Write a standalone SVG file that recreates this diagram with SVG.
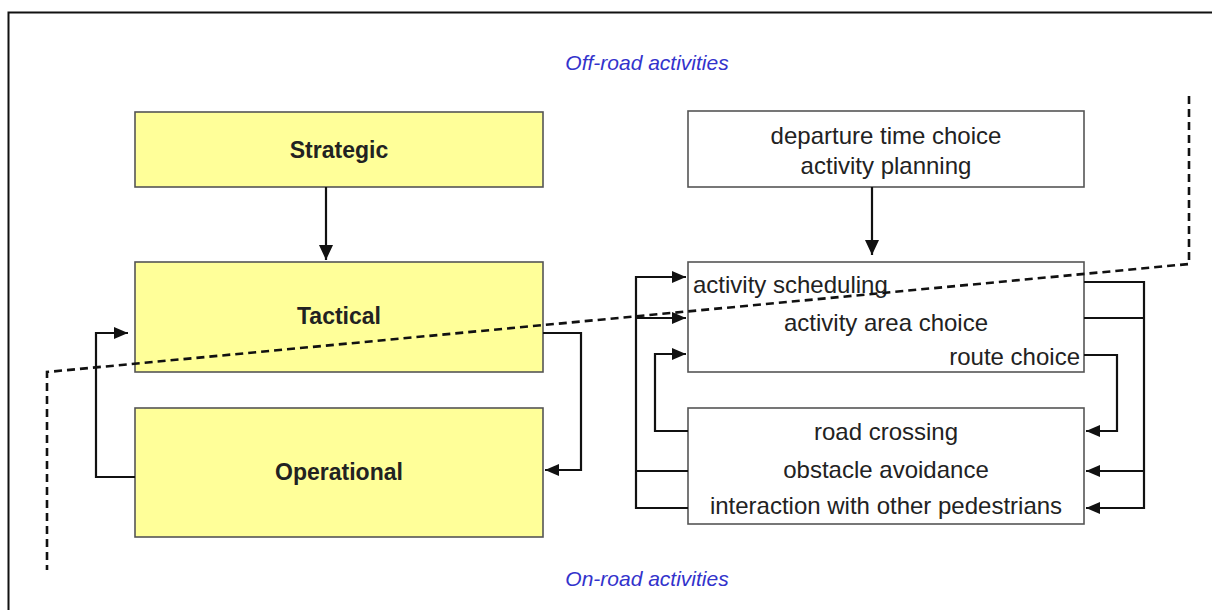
<svg xmlns="http://www.w3.org/2000/svg" width="1212" height="610" viewBox="0 0 1212 610">
<defs>
<style>
.box{stroke:#555;stroke-width:1.6}
.y{fill:#ffff99}
.w{fill:#fff}
.t{font-family:"Liberation Sans",Arial,sans-serif;font-size:24px;fill:#222}
.b{font-weight:bold;font-size:23px}
.blue{font-family:"Liberation Sans",Arial,sans-serif;font-size:21px;font-style:italic;fill:#3333cc}
.c{fill:none;stroke:#111;stroke-width:2.2}
.d{fill:none;stroke:#111;stroke-width:2.6;stroke-dasharray:8 5}
</style>
<marker id="ah" viewBox="0 0 14 12" refX="14" refY="6" markerWidth="14" markerHeight="12" markerUnits="userSpaceOnUse" orient="auto">
<path d="M0,0 L14,6 L0,12 Z" fill="#111"/>
</marker>
<marker id="ahb" viewBox="0 0 15 14" refX="15" refY="7" markerWidth="15" markerHeight="14" markerUnits="userSpaceOnUse" orient="auto">
<path d="M0,0 L15,7 L0,14 Z" fill="#111"/>
</marker>
</defs>
<rect width="1212" height="610" fill="#fff"/>
<path d="M8.5,610 V12.5 H1212" fill="none" stroke="#111" stroke-width="2"/>

<text class="blue" x="647" y="70" text-anchor="middle">Off-road activities</text>
<text class="blue" x="647" y="586" text-anchor="middle">On-road activities</text>

<g id="strategic"><rect class="box y" x="135" y="112" width="408" height="75"/><text class="t b" x="339" y="158" text-anchor="middle">Strategic</text></g>
<g id="tactical"><rect class="box y" x="135" y="262" width="408" height="110"/><text class="t b" x="339" y="324" text-anchor="middle">Tactical</text></g>
<g id="operational"><rect class="box y" x="135" y="408" width="408" height="129"/><text class="t b" x="339" y="480" text-anchor="middle">Operational</text></g>

<g id="departure"><rect class="box w" x="688" y="111" width="396" height="76"/>
<text class="t" x="886" y="144" text-anchor="middle">departure time choice</text>
<text class="t" x="886" y="174" text-anchor="middle">activity planning</text></g>
<g id="tactical-activities"><rect class="box w" x="688" y="262" width="396" height="110"/>
<text class="t" x="693" y="293">activity scheduling</text>
<text class="t" x="886" y="331" text-anchor="middle">activity area choice</text>
<text class="t" x="1080" y="365" text-anchor="end">route choice</text></g>
<g id="operational-activities"><rect class="box w" x="688" y="408" width="396" height="116"/>
<text class="t" x="886" y="440" text-anchor="middle">road crossing</text>
<text class="t" x="886" y="478" text-anchor="middle">obstacle avoidance</text>
<text class="t" x="886" y="514" text-anchor="middle">interaction with other pedestrians</text></g>

<g id="connectors">
<path class="c" d="M326,187 V260" marker-end="url(#ahb)"/>
<path class="c" d="M872,187 V255" marker-end="url(#ahb)"/>
<path class="c" d="M135,477 H96 V333 H128" marker-end="url(#ah)"/>
<path class="c" d="M543,333 H581 V470 H545" marker-end="url(#ah)"/>
<path class="c" d="M688,508 H636 V277 H686" marker-end="url(#ah)"/>
<path class="c" d="M688,471 H636"/>
<path class="c" d="M636,318 H686" marker-end="url(#ah)"/>
<path class="c" d="M688,431 H655 V354 H686" marker-end="url(#ah)"/>
<path class="c" d="M1084,282 H1144 V508 H1086" marker-end="url(#ah)"/>
<path class="c" d="M1084,318 H1144"/>
<path class="c" d="M1144,471 H1086" marker-end="url(#ah)"/>
<path class="c" d="M1084,355 H1117 V431 H1086" marker-end="url(#ah)"/>
<path class="d" d="M1189,96 V264 L47,372 V570"/>
</g>
</svg>
